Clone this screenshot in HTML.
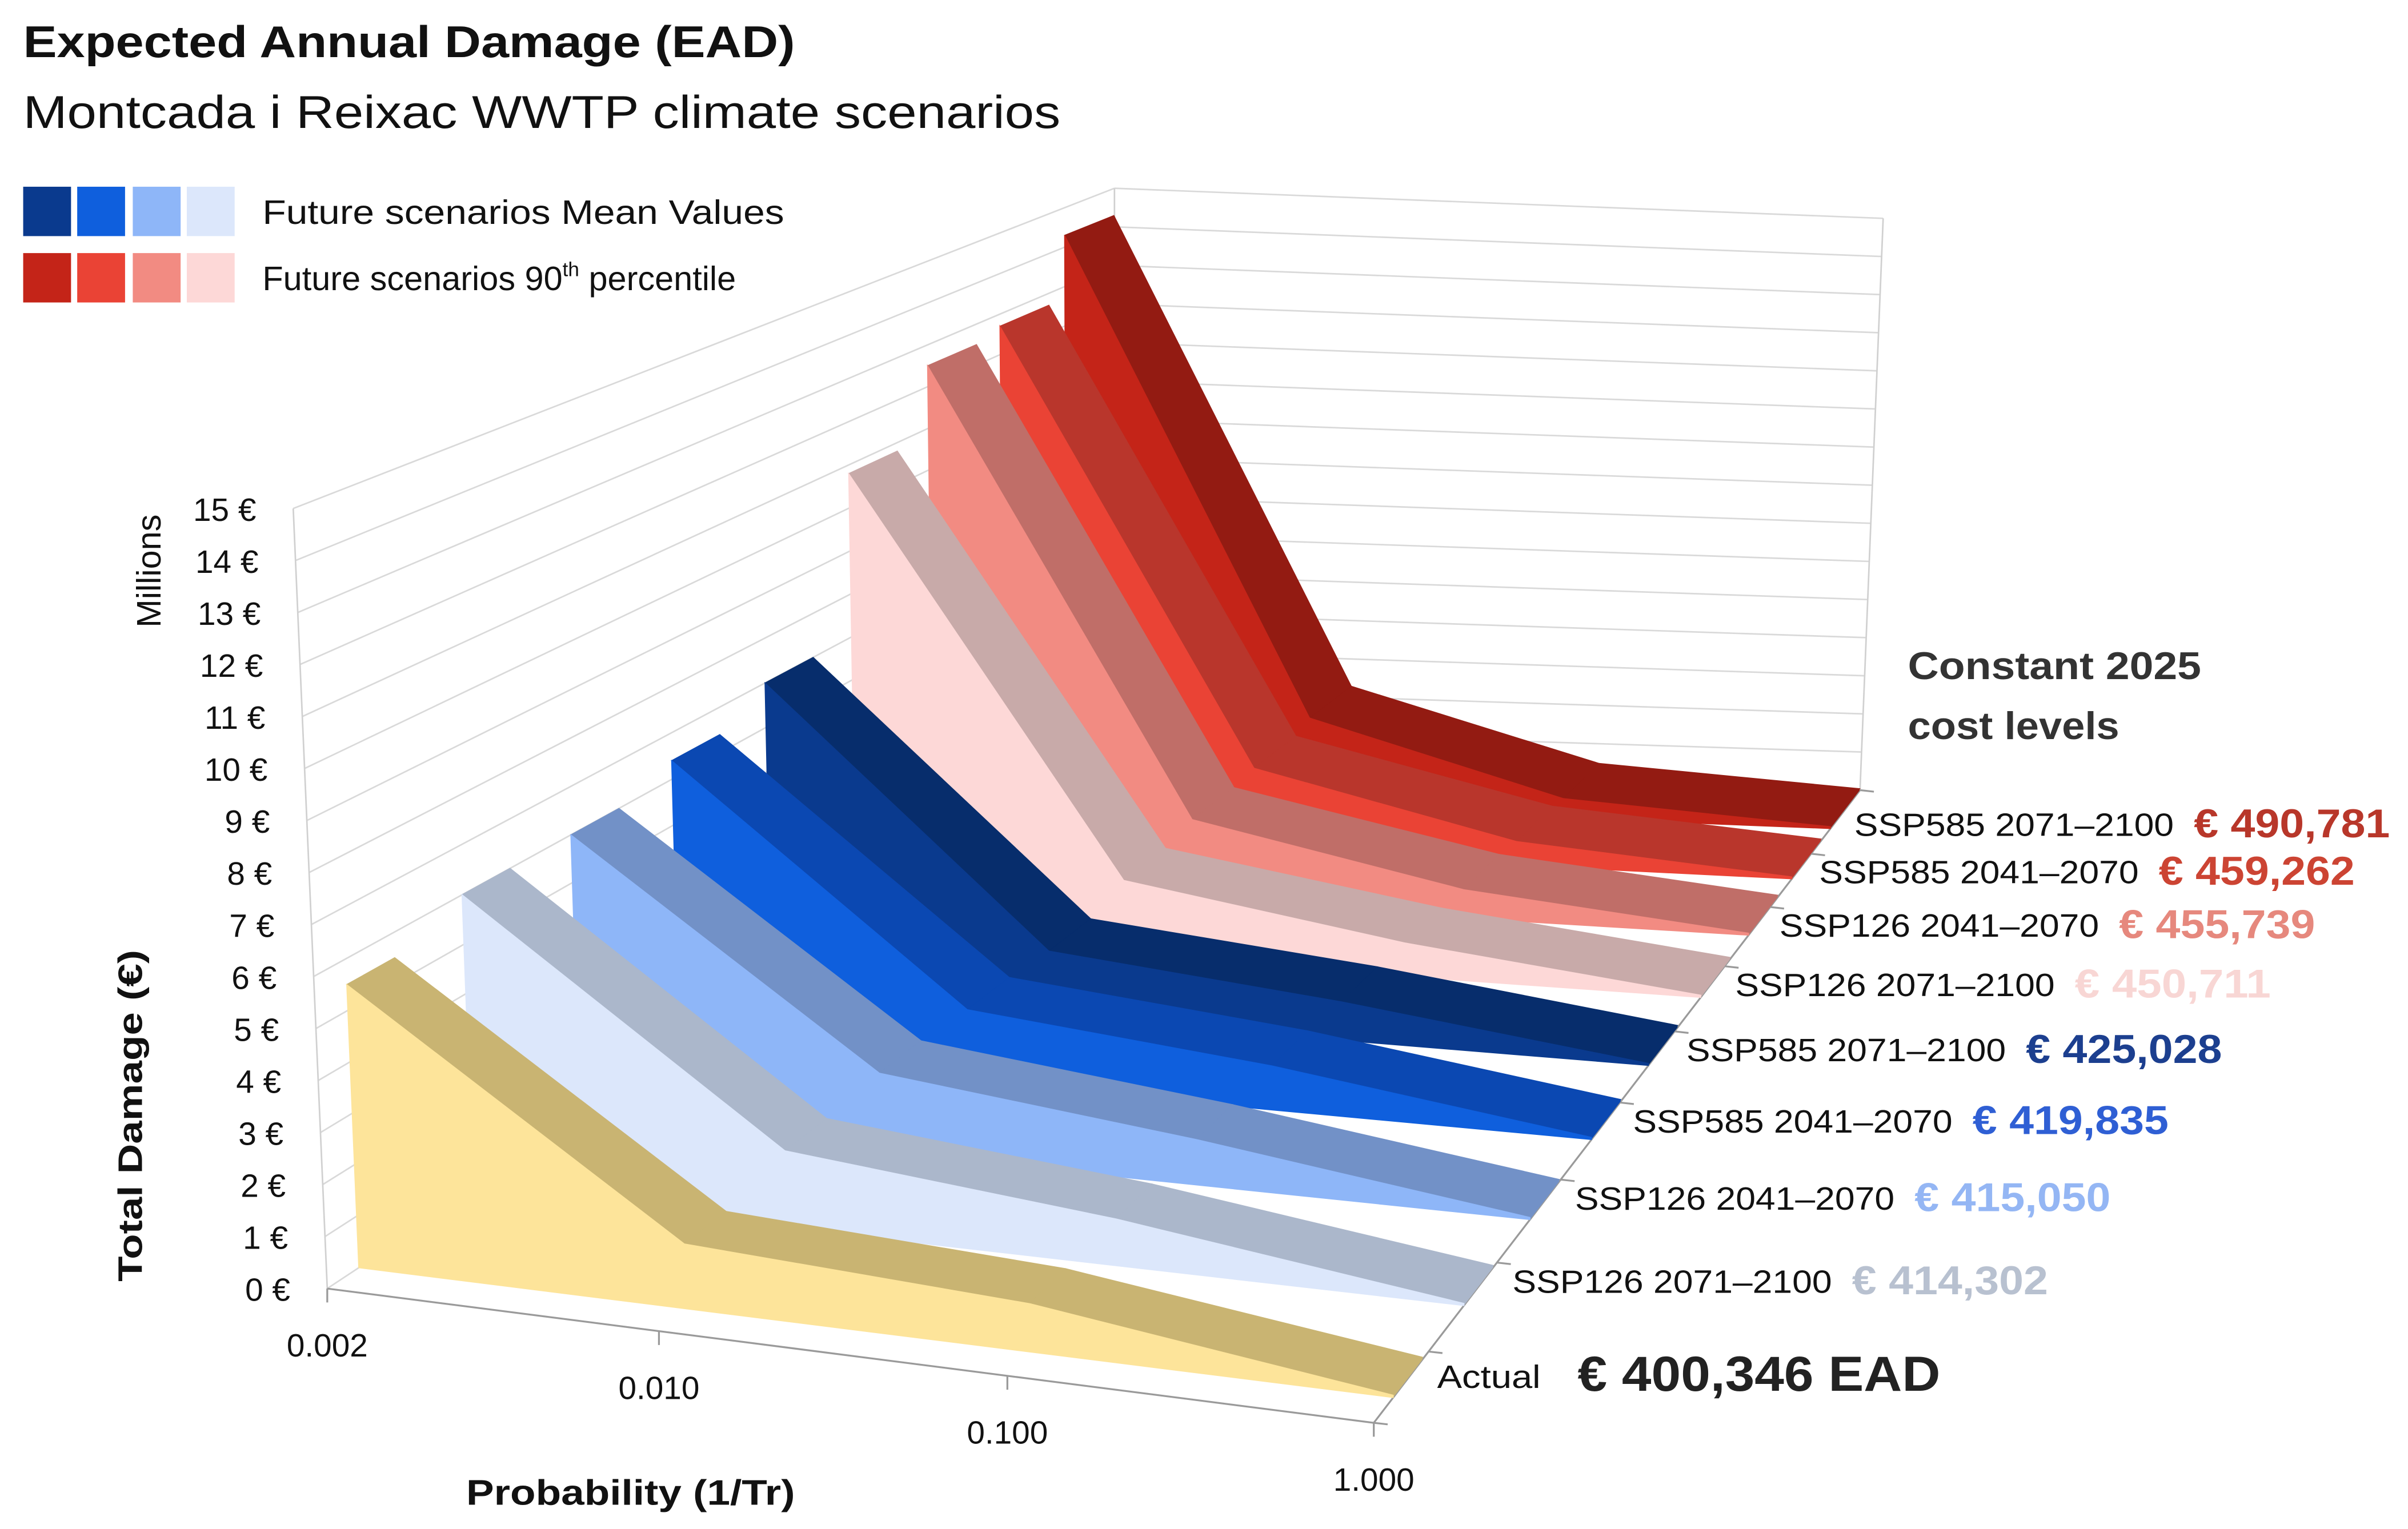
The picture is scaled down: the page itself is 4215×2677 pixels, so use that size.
<!DOCTYPE html>
<html><head><meta charset="utf-8"><style>
html,body{margin:0;padding:0;background:#fff;}
svg{display:block;}
text{font-family:"Liberation Sans",sans-serif;}
</style></head><body>
<svg id="chart" width="4215" height="2677" viewBox="0 0 1560 990.8" xmlns="http://www.w3.org/2000/svg">
<rect width="1560" height="990.8" fill="#fff"/>
<text x="15" y="37" font-size="29" font-weight="bold" fill="#111" textLength="500" lengthAdjust="spacingAndGlyphs">Expected Annual Damage (EAD)</text>
<text x="15" y="83" font-size="30" fill="#111" textLength="672" lengthAdjust="spacingAndGlyphs">Montcada i Reixac WWTP climate scenarios</text>
<g>
<rect x="15" y="121" width="31" height="32" fill="#0a3a8e"/>
<rect x="50" y="121" width="31" height="32" fill="#0f5fdd"/>
<rect x="86" y="121" width="31" height="32" fill="#8eb6f8"/>
<rect x="121" y="121" width="31" height="32" fill="#dce7fb"/>
<rect x="15" y="164" width="31" height="32" fill="#c42418"/>
<rect x="50" y="164" width="31" height="32" fill="#ea4335"/>
<rect x="86" y="164" width="31" height="32" fill="#f28b82"/>
<rect x="121" y="164" width="31" height="32" fill="#fdd8d7"/>
<text x="170" y="145" font-size="22" fill="#111" textLength="338" lengthAdjust="spacingAndGlyphs">Future scenarios Mean Values</text>
<text x="170" y="188" font-size="22" fill="#111">Future scenarios 90<tspan font-size="13" dy="-9">th</tspan><tspan dy="9"> percentile</tspan></text>
</g>
<g id="grid"></g>
<g id="ribbons"></g>
<g id="labels"></g>
<text transform="translate(104,370) rotate(-90)" text-anchor="middle" font-size="22" fill="#111">Millions</text>
<text transform="translate(92,723) rotate(-90)" text-anchor="middle" font-size="22" font-weight="bold" fill="#111" textLength="215" lengthAdjust="spacingAndGlyphs">Total Damage (€)</text>
<text x="302" y="975" font-size="23" font-weight="bold" fill="#111" textLength="213" lengthAdjust="spacingAndGlyphs">Probability (1/Tr)</text>
<text x="1236" y="440" font-size="25" font-weight="bold" fill="#333" textLength="190" lengthAdjust="spacingAndGlyphs">Constant 2025</text>
<text x="1236" y="479" font-size="25" font-weight="bold" fill="#333" textLength="137" lengthAdjust="spacingAndGlyphs">cost levels</text>
</svg>
<script>
// ---- data ----
const categories = ["0.002","0.010","0.100","1.000"];
const seriesNames = ["Actual","SSP126 2071–2100","SSP126 2041–2070","SSP585 2041–2070","SSP585 2071–2100","SSP126 2071–2100","SSP126 2041–2070","SSP585 2041–2070","SSP585 2071–2100"];
const eadLabels = ["€ 400,346 EAD","€ 414,302","€ 415,050","€ 419,835","€ 425,028","€ 450,711","€ 455,739","€ 459,262","€ 490,781"];
const valActual = [5.5,1.3,1.0,0.05];
const valS126_2071 = [6.0,1.6,1.0,0.05];
const valS126_2041 = [6.0,1.7,1.0,0.05];
const valS585_2041 = [6.4,1.6,1.0,0.05];
const valS585_2071 = [7.0,1.5,0.9,0.05];
const valP126_2071 = [10.8,1.8,0.8,0.05];
const valP126_2041 = [12.5,2.0,0.7,0.05];
const valP585_2041 = [12.7,2.1,0.6,0.05];
const valP585_2071 = [14.3,2.3,0.5,0.05];
const yTicks = [0,1,2,3,4,5,6,7,8,9,10,11,12,13,14,15];
const yTickLabels = yTicks.map(v => v + " €");
const allValues = [valActual,valS126_2071,valS126_2041,valS585_2041,valS585_2071,valP126_2071,valP126_2041,valP585_2041,valP585_2071];

// ---- styling ----
const frontColors = ["#fde49a","#dce7fb","#8eb6f8","#0f5fdd","#0a3a8e","#fdd8d7","#f28b82","#ea4335","#c42418"];
const topColors = ["#c9b472","#abb7cb","#7291c7","#0b48b2","#072d6c","#c8aaa9","#c06e68","#b9362c","#931b12"];
const labelColors = ["#222","#b8c1d0","#94b6f4","#2f5fd4","#1c3f8f","#f8d6d4","#e6887d","#cc4433","#b8372a"];

// ---- projection ----
const FL=[212,835], FR=[890,922], BL=[722,497], BR=[1205,512];
const UFL=[-1.47,-33.7], UFR=[-0.5,-30.5], UBL=[0,-25], UBR=[1,-24.7];
function bil(a,b,c,d,u,z){return [a[0]+u*(b[0]-a[0])+z*(c[0]-a[0])+u*z*(d[0]-c[0]-b[0]+a[0]), a[1]+u*(b[1]-a[1])+z*(c[1]-a[1])+u*z*(d[1]-c[1]-b[1]+a[1])];}
function P(u,z,v){const f=bil(FL,FR,BL,BR,u,z),up=bil(UFL,UFR,UBL,UBR,u,z);return [f[0]+v*up[0],f[1]+v*up[1]];}
function xU(i){const t=i/(categories.length-1),a=0.928;return t*a/(1+(a-1)*t);}
function zS(k){return 0.04+0.15*k-0.0047*k*k;}
const DZ=0.06;
const NS="http://www.w3.org/2000/svg";
function pts(a){return a.map(p=>p[0].toFixed(1)+","+p[1].toFixed(1)).join(" ");}
function line(g,a,b,col,w){const l=document.createElementNS(NS,"line");l.setAttribute("x1",a[0]);l.setAttribute("y1",a[1]);l.setAttribute("x2",b[0]);l.setAttribute("y2",b[1]);l.setAttribute("stroke",col);l.setAttribute("stroke-width",w);g.appendChild(l);return l;}

// walls / grid
const grid=document.getElementById("grid");
yTicks.forEach(v=>{
  const l1=line(grid,P(0,0,v),P(0,1,v),"#d9d9d9",1);
  
  
  const l2=line(grid,P(0,1,v),P(1,1,v),"#d9d9d9",1);
  
  
});
[[P(0,1,0),P(0,1,15)],[P(1,1,0),P(1,1,15)],[P(0,0,0),P(0,0,15)]].forEach(s=>{
  const l=line(grid,s[0],s[1],"#d0d0d0",1);
  
  
});
[[P(0,0,0),P(1,0,0)],[P(1,0,0),P(1,1,0)]].forEach(s=>{
  const l=line(grid,s[0],s[1],"#9a9a9a",1.2);
  
  
});
categories.forEach((c,i)=>{
  const a=P(xU(i),0,0);
  const l=line(grid,a,[a[0],a[1]+9],"#9a9a9a",1.2);
  
  
});
for(let k=0;k<=seriesNames.length;k++){
  const zz=k===0?0:(zS(k-1)+zS(Math.min(k,seriesNames.length-1)))/2;
  const z=k===seriesNames.length?1:zz;
  const a=P(1,z,0);
  const l=line(grid,a,[a[0]+9,a[1]+1],"#9a9a9a",1.2);
  
  
}

// ribbons, back to front
const rib=document.getElementById("ribbons");
for(let k=allValues.length-1;k>=0;k--){
  const vals=allValues[k], z=zS(k);
  const g=document.createElementNS(NS,"g");
  
  
  rib.appendChild(g);
  const front=vals.map((v,i)=>P(xU(i),z,v));
  const back=vals.map((v,i)=>P(xU(i),z+DZ,v));
  for(let i=0;i<vals.length-1;i++){
    const q=document.createElementNS(NS,"polygon");
    q.setAttribute("points",pts([front[i],front[i+1],back[i+1],back[i]]));
    q.setAttribute("fill",topColors[k]);
    q.setAttribute("stroke",topColors[k]);
    q.setAttribute("stroke-width","0.6");
    
    
    g.appendChild(q);
  }
  const cap=document.createElementNS(NS,"polygon");
  cap.setAttribute("points",pts([P(1,z,0),front[vals.length-1],back[vals.length-1],P(1,z+DZ,0)]));
  cap.setAttribute("fill",topColors[k]);
  
  
  g.appendChild(cap);
  const fp=[P(0,z,0)].concat(front).concat([P(1,z,0)]);
  const f=document.createElementNS(NS,"polygon");
  f.setAttribute("points",pts(fp));
  f.setAttribute("fill",frontColors[k]);
  f.setAttribute("stroke",frontColors[k]);
  f.setAttribute("stroke-width","0.6");
  
  
  g.appendChild(f);
}

// labels
const lab=document.getElementById("labels");
function txt(x,y,s,size,opts){const t=document.createElementNS(NS,"text");t.setAttribute("x",x);t.setAttribute("y",y);t.setAttribute("font-size",size);t.setAttribute("fill",(opts&&opts.fill)||"#111");if(opts&&opts.anchor)t.setAttribute("text-anchor",opts.anchor);if(opts&&opts.bold)t.setAttribute("font-weight","bold");t.textContent=s;lab.appendChild(t);return t;}
yTicks.forEach((v,i)=>{
  const a=P(0,0,v);
  const t=txt(a[0]-24,a[1]+8,yTickLabels[i],21,{anchor:"end"});
  
  
});
categories.forEach((c,i)=>{
  const a=P(xU(i),0,0);
  const t=txt(a[0],a[1]+44,c,21,{anchor:"middle"});
  
  
});
seriesNames.forEach((n,k)=>{
  const a=P(1,zS(k)+DZ/2,0);
  const isA=k===0;
  const x0=isA?a[0]+19:a[0]+22-(k-1)*16/7;
  const y0=isA?a[1]+6:a[1]+4+(k-1)*13/7;
  const t=txt(x0,y0,n,21,{});
  
  
  const w=isA?67:207;
  t.setAttribute("textLength",w);t.setAttribute("lengthAdjust","spacingAndGlyphs");
  const e=txt(x0+w+(isA?24:13),y0+(isA?2:1),eadLabels[k],isA?32:26,{bold:true,fill:labelColors[k]});
  
  
  e.setAttribute("textLength",isA?235:127);e.setAttribute("lengthAdjust","spacingAndGlyphs");
});
</script>
</body></html>
